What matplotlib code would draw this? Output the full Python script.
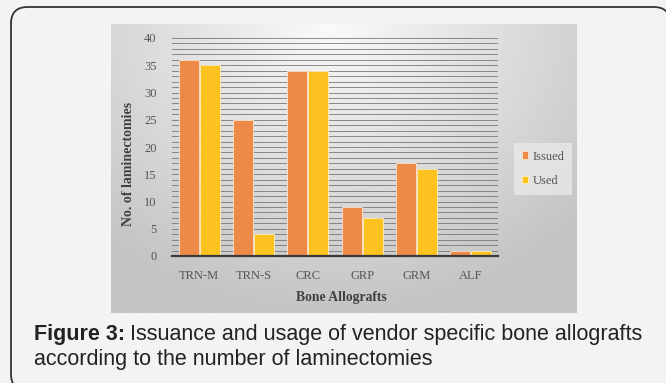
import matplotlib.pyplot as plt
import numpy as np
from matplotlib.patches import FancyBboxPatch

# ------------------------------------------------------------
# Data
# ------------------------------------------------------------

categories = ["TRN-M", "TRN-S", "CRC", "GRP", "GRM", "ALF"]
issued = [36, 25, 34, 9, 17, 1]
used = [35, 4, 34, 7, 16, 1]
y_ticks = [0, 5, 10, 15, 20, 25, 30, 35, 40]

W, H = 666, 383

ISSUED_COLOR = "#ee8a48"
USED_COLOR = "#fcc320"
SERIF = ["Liberation Serif", "DejaVu Serif"]


def box(x0, y0, x1, y1):
    """pixel box (top-left origin) -> figure fraction rect"""
    return [x0 / W, 1 - y1 / H, (x1 - x0) / W, (y1 - y0) / H]


fig = plt.figure(figsize=(W / 100, H / 100), dpi=100)
fig.patch.set_facecolor("#f2f3f5")

# rounded frame around everything
frame = FancyBboxPatch(
    (11 / W, -0.02), 0.99, 1 - 7 / H + 0.02,
    boxstyle="round,pad=0,rounding_size=0.025",
    transform=fig.transFigure,
    facecolor="#f2f3f5", edgecolor="#333333", linewidth=1.3,
    mutation_aspect=W / H, zorder=-10,
)
fig.patches.append(frame)

# ------------------------------------------------------------
# Chart background (soft radial gradient)
# ------------------------------------------------------------

bg = fig.add_axes(box(111, 24, 577, 313))
gx, gy = np.meshgrid(np.linspace(0, 1, 300), np.linspace(0, 1, 200))
r = np.sqrt(((gx - 0.47) / 0.72) ** 2 + ((gy - 0.0) / 1.0) ** 2)
shade = 250 - (250 - 196) * np.clip(r, 0, 1)
shade = shade / 255.0
bg.imshow(np.dstack([shade, shade, shade]), aspect="auto",
          extent=(0, 1, 1, 0), interpolation="bicubic")
bg.set_axis_off()

# ------------------------------------------------------------
# Bars
# ------------------------------------------------------------

ax = fig.add_axes(box(172, 38, 498, 256))
ax.patch.set_alpha(0)

x = np.arange(len(categories))
bw = 0.37

for v in range(1, 41):
    ax.axhline(v, color="#707070", linewidth=0.7, alpha=0.8, zorder=1)

ax.bar(x - bw / 2 - 0.01, issued, bw, color=ISSUED_COLOR,
       edgecolor="#fbe3cf", linewidth=0.6, label="Issued", zorder=2)
ax.bar(x + bw / 2 + 0.01, used, bw, color=USED_COLOR,
       edgecolor="#fff0c0", linewidth=0.6, label="Used", zorder=2)

ax.set_xlim(-0.5, len(categories) - 0.5)
ax.set_ylim(0, 40)
ax.set_yticks(y_ticks)
ax.set_xticks(x)
ax.set_xticklabels(categories)

for spine in ["top", "right", "left"]:
    ax.spines[spine].set_visible(False)
ax.spines["bottom"].set_color("#3a3a3a")
ax.spines["bottom"].set_linewidth(1.6)
ax.spines["bottom"].set_zorder(3)

ax.tick_params(axis="both", length=0, colors="#555555", labelsize=9)
ax.tick_params(axis="x", pad=10)
ax.tick_params(axis="y", pad=11)
for lab in ax.get_xticklabels() + ax.get_yticklabels():
    lab.set_family(SERIF)

leg = ax.legend(
    loc="center left", bbox_to_anchor=(1.03, 0.40),
    frameon=True, fancybox=False, handlelength=0.55, handleheight=0.55,
    handletextpad=0.35, labelspacing=1.0, borderpad=0.6,
    prop={"family": SERIF, "size": 9},
)
leg.get_frame().set_facecolor("#ececec")
leg.get_frame().set_edgecolor("none")
leg.get_frame().set_alpha(0.7)
for t in leg.get_texts():
    t.set_color("#555555")

# axis titles
fig.text(128 / W, 1 - 164 / H, "No. of laminectomies", rotation=90,
         ha="center", va="center", family=SERIF, fontweight="bold",
         fontsize=10, color="#404040")
fig.text(341 / W, 1 - 298 / H, "Bone Allografts",
         ha="center", va="center", family=SERIF, fontweight="bold",
         fontsize=9.8, color="#404040")

# ------------------------------------------------------------
# Caption
# ------------------------------------------------------------

cap_kw = dict(fontsize=15.5, color="#222222", va="baseline",
              family=["Liberation Sans", "DejaVu Sans"])
head = fig.text(34 / W, 1 - 340 / H, "Figure 3:", fontweight="bold", **cap_kw)
fig.canvas.draw()
ext = head.get_window_extent(fig.canvas.get_renderer())
fig.text((ext.x1 + 5) / W, 1 - 340 / H,
         "Issuance and usage of vendor specific bone allografts", **cap_kw)
fig.text(34 / W, 1 - 365 / H,
         "according to the number of laminectomies", **cap_kw)

fig.savefig("out.png", dpi=100, facecolor=fig.get_facecolor())
